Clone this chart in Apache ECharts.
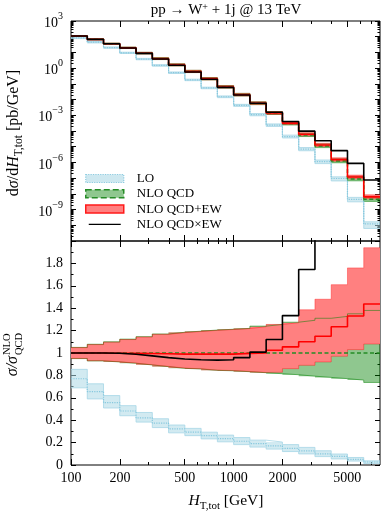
<!DOCTYPE html>
<html>
<head>
<meta charset="utf-8">
<script src="https://cdn.jsdelivr.net/npm/echarts@6/dist/echarts.min.js"></script>
<style>
html, body { margin: 0; padding: 0; background: #fff; }
#main { width: 382px; height: 511px; }
</style>
</head>
<body>
<div id="main"></div>
<script>
var myChart = echarts.init(document.getElementById('main'));

// bin edges in H_T,tot [GeV] (19 bins, 0.1 decade each)
var binEdges = [100, 125.9, 158.5, 199.5, 251.2, 316.2, 398.1, 501.2, 631.0, 794.3,
    1000, 1258.9, 1584.9, 1995.3, 2511.9, 3162.3, 3981.1, 5011.9, 6309.6, 7943.3];
var xLabelValues = [100, 200, 500, 1000, 2000, 5000];
var xMinorValues = [300, 400, 600, 700, 800, 900, 3000, 4000, 6000, 7000];

// NLO QCD central value, dsigma/dHT [pb/GeV]
var nloQcd = [110, 68, 36, 19.5, 8.9, 4.0, 1.6, 0.61, 0.21, 0.064,
    0.0203, 0.0058, 1.38e-3, 3.0e-4, 5.6e-5, 1.12e-5, 1.23e-6, 8.9e-8, 4.5e-9];

// ratios to NLO QCD (lower panel)
var loRatio = [0.77, 0.656, 0.557, 0.482, 0.421, 0.374, 0.322, 0.293, 0.262, 0.236,
    0.212, 0.19, 0.171, 0.148, 0.126, 0.1, 0.077, 0.05, 0.027];
var loLow = [0.689, 0.59, 0.509, 0.44, 0.383, 0.334, 0.287, 0.262, 0.233, 0.207,
    0.182, 0.16, 0.142, 0.12, 0.099, 0.075, 0.054, 0.035, 0.014];
var loHigh = [0.854, 0.725, 0.62, 0.53, 0.469, 0.413, 0.357, 0.327, 0.293, 0.267,
    0.245, 0.222, 0.205, 0.182, 0.157, 0.127, 0.098, 0.067, 0.037];

var qcdRatio = [1, 1, 1, 1, 1, 1, 1, 1, 1, 1, 1, 1, 1, 1, 1, 1, 1, 1, 1];
var qcdLow = [0.95, 0.929, 0.92, 0.908, 0.893, 0.878, 0.863, 0.857, 0.845, 0.841,
    0.833, 0.824, 0.815, 0.806, 0.793, 0.782, 0.771, 0.758, 0.737];
var qcdHigh = [1.05, 1.078, 1.1, 1.124, 1.146, 1.17, 1.185, 1.195, 1.205, 1.212,
    1.22, 1.24, 1.255, 1.275, 1.292, 1.31, 1.327, 1.35, 1.38];

var ewRatio = [1.0, 1.0, 0.998, 0.997, 0.995, 0.993, 0.99, 0.99, 0.99, 0.99,
    0.997, 1.0, 1.025, 1.055, 1.1, 1.15, 1.235, 1.33, 1.437];
var ewLow = [0.952, 0.931, 0.922, 0.91, 0.895, 0.88, 0.865, 0.859, 0.847, 0.843,
    0.835, 0.826, 0.828, 0.86, 0.89, 0.92, 0.971, 1.03, 1.08];
var ewHigh = [1.048, 1.075, 1.097, 1.12, 1.143, 1.167, 1.182, 1.192, 1.202, 1.21,
    1.218, 1.235, 1.255, 1.27, 1.386, 1.48, 1.61, 1.76, 1.94];

var mulRatio = [1.0, 1.0, 0.998, 0.989, 0.974, 0.959, 0.947, 0.94, 0.936, 0.94,
    0.959, 1.008, 1.12, 1.334, 1.746, 2.14, 4.57, 9.8, 16.9];

var FONT = 'Liberation Serif';
var nBins = nloQcd.length;

function lg(v) {
    return Math.log10(v);
}
// y value of bin i: log10(dsigma) on top, ratio below
function toY(panel, i, r) {
    return panel === 'top' ? lg(nloQcd[i] * r) : r;
}
function stepData(panel, vals) {
    var d = [];
    for (var i = 0; i < nBins; i++) {
        d.push([lg(binEdges[i]), toY(panel, i, vals[i])]);
    }
    d.push([lg(binEdges[nBins]), toY(panel, nBins - 1, vals[nBins - 1])]);
    return d;
}

function fillSeries(name, panel, lo, hi, color, z) {
    var idx = panel === 'top' ? 0 : 4;
    return {
        name: name,
        type: 'custom',
        xAxisIndex: idx,
        yAxisIndex: idx,
        z: z,
        silent: true,
        data: [[lg(binEdges[0]), toY(panel, 0, lo[0])]],
        renderItem: function (params, api) {
            var pts = [];
            for (var i = 0; i < nBins; i++) {
                pts.push(api.coord([lg(binEdges[i]), toY(panel, i, hi[i])]));
                pts.push(api.coord([lg(binEdges[i + 1]), toY(panel, i, hi[i])]));
            }
            for (var j = nBins - 1; j >= 0; j--) {
                pts.push(api.coord([lg(binEdges[j + 1]), toY(panel, j, lo[j])]));
                pts.push(api.coord([lg(binEdges[j]), toY(panel, j, lo[j])]));
            }
            return { type: 'polygon', shape: { points: pts }, style: { fill: color } };
        }
    };
}

function stepSeries(name, panel, vals, lineStyle, z) {
    var idx = panel === 'top' ? 0 : 4;
    return {
        name: name,
        type: 'line',
        step: 'end',
        xAxisIndex: idx,
        yAxisIndex: idx,
        z: z,
        silent: true,
        symbol: 'none',
        showSymbol: false,
        lineStyle: lineStyle,
        itemStyle: { color: lineStyle.color },
        data: stepData(panel, vals)
    };
}

var loEdge = { color: '#a6d6e6', width: 0.8 };
var qcdEdge = { color: 'rgba(0,128,0,0.5)', width: 1 };
var ewEdge = { color: 'rgba(255,0,0,0.45)', width: 0.8 };

var series = [];
['top', 'bottom'].forEach(function (p) {
    series.push(fillSeries('LO', p, loLow, loHigh, 'rgba(173,216,230,0.55)', 1));
    series.push(fillSeries('NLO QCD', p, qcdLow, qcdHigh, 'rgba(0,128,0,0.44)', 2));
    series.push(fillSeries('NLO QCD+EW', p, ewLow, ewHigh, '#ff8080', 3));
    series.push(stepSeries('lo-edge-lo', p, loLow, loEdge, 4));
    series.push(stepSeries('lo-edge-hi', p, loHigh, loEdge, 4));
    series.push(stepSeries('qcd-edge-lo', p, qcdLow, qcdEdge, 4));
    series.push(stepSeries('qcd-edge-hi', p, qcdHigh, qcdEdge, 4));
    series.push(stepSeries('ew-edge-lo', p, ewLow, ewEdge, 4));
    series.push(stepSeries('ew-edge-hi', p, ewHigh, ewEdge, 4));
    series.push(stepSeries('lo-central', p, loRatio, { color: '#86c8de', width: 1.2, type: 'dotted' }, 5));
    series.push(stepSeries('qcd-central', p, qcdRatio, { color: '#268c26', width: 1.5, type: [4, 2.5] }, 6));
    series.push(stepSeries('ew-central', p, ewRatio, { color: '#ff0000', width: 1.6 }, 7));
    series.push(stepSeries('NLO QCD×EW', p, mulRatio, { color: '#000', width: 1.6 }, 8));
});

// x axes: major/minor ticks on bottom and top of each panel
function xAxisFor(grid, pos, ticks, len, labels) {
    return {
        type: 'value',
        gridIndex: grid,
        position: pos,
        min: lg(binEdges[0]),
        max: lg(binEdges[binEdges.length - 1]),
        axisLine: { show: false, onZero: false },
        splitLine: { show: false },
        axisTick: {
            show: true, inside: true, length: len,
            customValues: ticks.map(lg),
            lineStyle: { color: '#000', width: 1 }
        },
        axisLabel: labels ? {
            show: true,
            margin: 6,
            customValues: xLabelValues.map(lg),
            formatter: function (v) { return Math.round(Math.pow(10, v)); },
            color: '#000',
            fontFamily: FONT,
            fontSize: 14
        } : { show: false }
    };
}

var xAxes = [];
[0, 1].forEach(function (g) {
    xAxes.push(xAxisFor(g, 'bottom', xLabelValues, 6, g === 1));
    xAxes.push(xAxisFor(g, 'bottom', xMinorValues, 3, false));
    xAxes.push(xAxisFor(g, 'top', xLabelValues, 6, false));
    xAxes.push(xAxisFor(g, 'top', xMinorValues, 3, false));
});

// minor ticks of the log y axis (2..9 x 10^n)
var yMinorTicks = [];
for (var n = -11; n < 3; n++) {
    for (var k = 2; k <= 9; k++) {
        yMinorTicks.push(n + lg(k));
    }
}

function topYAxis(pos, labels) {
    return {
        type: 'value', gridIndex: 0, position: pos, min: -11, max: 3, interval: 1,
        axisLine: { show: false, onZero: false }, splitLine: { show: false },
        axisTick: { show: true, inside: true, length: 5, lineStyle: { color: '#000' } },
        axisLabel: labels ? {
            show: true,
            margin: 8,
            formatter: function (v) {
                v = Math.round(v);
                if (v % 3 !== 0) return '';
                return '{b|10}{e|' + (v < 0 ? '\u2212' + (-v) : v) + '}';
            },
            rich: {
                b: { fontFamily: FONT, fontSize: 14, color: '#000', lineHeight: 19, verticalAlign: 'bottom' },
                e: { fontFamily: FONT, fontSize: 10, color: '#000', lineHeight: 10, verticalAlign: 'top' }
            }
        } : { show: false }
    };
}
function topYMinor(pos) {
    return {
        type: 'value', gridIndex: 0, position: pos, min: -11, max: 3,
        axisLine: { show: false, onZero: false }, splitLine: { show: false },
        axisTick: { show: true, inside: true, length: 2.5, customValues: yMinorTicks, lineStyle: { color: '#000' } },
        axisLabel: { show: false }
    };
}
function lowYAxis(pos, labels) {
    return {
        type: 'value', gridIndex: 1, position: pos, min: 0, max: 2, interval: 0.2,
        axisLine: { show: false, onZero: false }, splitLine: { show: false },
        axisTick: { show: true, inside: true, length: 5, lineStyle: { color: '#000' } },
        minorTick: { show: true, splitNumber: 2, length: 2.5, lineStyle: { color: '#000' } },
        axisLabel: labels ? {
            show: true, margin: 8, showMaxLabel: false,
            color: '#000', fontFamily: FONT, fontSize: 14
        } : { show: false }
    };
}

var yAxes = [
    topYAxis('left', true), topYMinor('left'), topYAxis('right', false), topYMinor('right'),
    lowYAxis('left', true), lowYAxis('right', false)
];

// thin bar inside a 40x10 box, so the legend keeps it a line
var lineIcon = 'path://M0,0 L0.01,0 L0.01,0.01 Z M0,4.2 L40,4.2 L40,5.8 L0,5.8 Z M0,10 L0.01,10 L0.01,9.99 Z';

option = {
    animation: false,
    backgroundColor: '#fff',
    grid: [
        { left: 71, right: 2, top: 21, height: 220, show: true, borderColor: '#000', borderWidth: 1, backgroundColor: 'transparent' },
        { left: 71, right: 2, top: 241, height: 224, show: true, borderColor: '#000', borderWidth: 1, backgroundColor: 'transparent' }
    ],
    xAxis: xAxes,
    yAxis: yAxes,
    legend: {
        orient: 'vertical',
        left: 85,
        top: 172,
        padding: 0,
        itemWidth: 38,
        itemHeight: 8,
        itemGap: 2.3,
        selectedMode: false,
        textStyle: { fontFamily: FONT, fontSize: 13, color: '#000', lineHeight: 13, padding: [0, 0, 0, 8] },
        data: [
            { name: 'LO', icon: 'rect', itemStyle: { color: 'rgba(173,216,230,0.6)', borderColor: '#8ccbe0', borderWidth: 1.2, borderType: 'dotted' } },
            { name: 'NLO QCD', icon: 'rect', itemStyle: { color: 'rgba(0,128,0,0.44)', borderColor: '#268c26', borderWidth: 1.5, borderType: 'dashed' } },
            { name: 'NLO QCD+EW', icon: 'rect', itemStyle: { color: '#ff8080', borderColor: '#ff1a1a', borderWidth: 1.5 } },
            { name: 'NLO QCD×EW', icon: lineIcon, itemStyle: { color: '#000', borderWidth: 0 } }
        ]
    },
    graphic: [
        {
            type: 'text', x: 226, y: 10, z: 10,
            style: {
                text: 'pp \u2192 W{sup|+} + 1j @ 13 TeV',
                align: 'center', verticalAlign: 'middle',
                fontFamily: FONT, fontSize: 15, fill: '#000',
                rich: {
                    sup: { fontFamily: FONT, fontSize: 10, lineHeight: 10, verticalAlign: 'top' }
                }
            }
        },
        {
            type: 'text', x: 226, y: 501, z: 10,
            style: {
                text: '{i|H}{sub|T,tot} [GeV]',
                align: 'center', verticalAlign: 'middle',
                fontFamily: FONT, fontSize: 15.5, fill: '#000',
                rich: {
                    i: { fontFamily: FONT, fontSize: 15.5, fontStyle: 'italic', lineHeight: 21 },
                    sub: { fontFamily: FONT, fontSize: 11, lineHeight: 11, verticalAlign: 'bottom' }
                }
            }
        },
        {
            type: 'text', x: 14, y: 133, rotation: Math.PI / 2, z: 10,
            style: {
                text: 'd{i|\u03c3}/d{i|H}{sub|T,tot} [pb/GeV]',
                align: 'center', verticalAlign: 'middle',
                fontFamily: FONT, fontSize: 16, fill: '#000',
                rich: {
                    i: { fontFamily: FONT, fontSize: 16, fontStyle: 'italic', lineHeight: 21 },
                    sub: { fontFamily: FONT, fontSize: 11.5, lineHeight: 11, verticalAlign: 'bottom' }
                }
            }
        },
        {
            type: 'group', x: 13, y: 356, rotation: Math.PI / 2, z: 10,
            children: [
                { type: 'text', x: 0, y: 0, style: { text: '\u03c3/\u03c3', align: 'right', verticalAlign: 'middle', fontFamily: FONT, fontSize: 16, fontStyle: 'italic', fill: '#000' } },
                { type: 'text', x: 1, y: -6, style: { text: 'NLO', align: 'left', verticalAlign: 'middle', fontFamily: FONT, fontSize: 10.5, fill: '#000' } },
                { type: 'text', x: 1, y: 6, style: { text: 'QCD', align: 'left', verticalAlign: 'middle', fontFamily: FONT, fontSize: 10.5, fill: '#000' } }
            ]
        }
    ],
    series: series
};

myChart.setOption(option);
</script>
</body>
</html>
